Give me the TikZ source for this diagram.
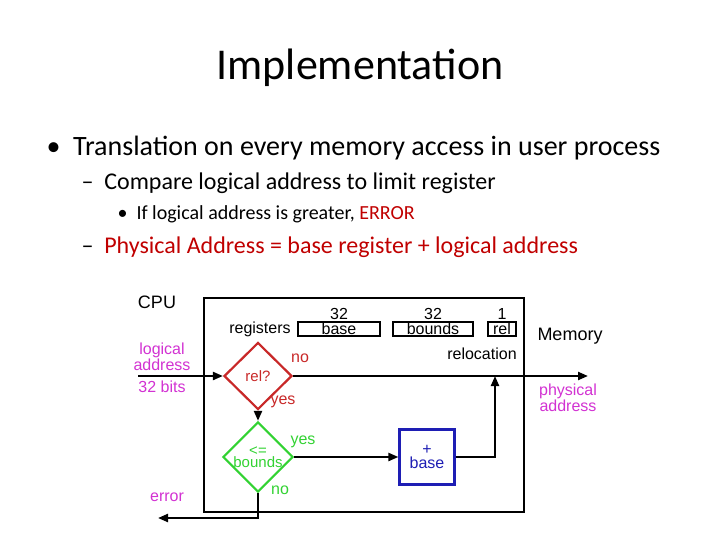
\documentclass[tikz,border=0pt]{standalone}
\usepackage{fontspec}
\setmainfont{Carlito}
\newfontfamily\diag{Liberation Sans}
\usetikzlibrary{shapes.geometric,arrows.meta,positioning}
\definecolor{mag}{RGB}{210,50,210}
\definecolor{dred}{RGB}{200,40,40}
\definecolor{lgreen}{RGB}{50,210,50}
\definecolor{dblue}{RGB}{30,30,180}
\definecolor{slred}{RGB}{192,0,0}

\begin{document}
\begin{tikzpicture}[x=1pt, y=-1pt,
    dtext/.style={font=\diag\fontsize{16}{14}\selectfont, align=center, inner sep=0pt},
    reg/.style={draw, line width=2.2pt, minimum height=14pt, inner sep=0pt, font=\diag\fontsize{16}{14}\selectfont},
    test/.style={draw, diamond, line width=2.2pt, minimum width=68pt, minimum height=67pt, inner sep=0pt, font=\diag\fontsize{15}{12}\selectfont, align=center},
    arrow/.style={-{Triangle[length=10pt,width=8pt]}, line width=2.2pt}
]
    \useasboundingbox (0,0) rectangle (720,540);
    % slide text
    \node[font=\fontsize{44}{44}\selectfont] (title) at (360,68) {Implementation};
    \node[anchor=west, font=\fontsize{28}{28}\selectfont] (b1) at (43,148) {\textbullet\ \ Translation on every memory access in user process};
    \node[anchor=west, font=\fontsize{24}{24}\selectfont] (b2) at (78,183) {--\ \ Compare logical address to limit register};
    \node[anchor=west, font=\fontsize{20}{20}\selectfont] (b3) at (114,214) {\textbullet\ \ If logical address is greater, \textcolor{slred}{ERROR}};
    \node[anchor=west, font=\fontsize{24}{24}\selectfont, text=slred] (b4) at (78,247) {\textcolor{black}{--}\ \ Physical Address = base register + logical address};

    % diagram
    \draw[line width=2.2pt] (204,298) rectangle (524,512);
    \node[dtext, font=\diag\fontsize{18}{18}\selectfont] (cpu) at (157,302) {CPU};
    \node[dtext, font=\diag\fontsize{18}{18}\selectfont] (mem) at (570,336) {Memory};
    \node[dtext] (regs) at (260,329) {registers};
    \node[reg, minimum width=82pt] (base) at (339,329) {base};
    \node[reg, minimum width=80pt] (bounds) at (433,329) {bounds};
    \node[reg, minimum width=28pt] (rel) at (502,329) {rel};
    \node[dtext, above=1pt of base] {32};
    \node[dtext, above=1pt of bounds] {32};
    \node[dtext, above=1pt of rel] {1};
    \node[dtext] (reloc) at (482,354) {relocation};

    \node[test, dred] (relq) at (258,376) {rel?};
    \node[test, lgreen] (bnd) at (258,457) {<=\\bounds};
    \node[draw, dblue, line width=2.2pt, minimum size=55pt, inner sep=0pt, dtext, text=dblue] (add) at (427,457) {+\\base};

    \coordinate (in) at (138,376);
    \coordinate (out) at (588,376);
    \coordinate (join) at (495,376);
    \coordinate (err) at (158,518);
    \draw[arrow] (in) -- (relq.west);
    \draw[arrow] (relq.east) -- (out);
    \draw[arrow] (relq.south) -- (bnd.north);
    \draw[arrow] (bnd.east) -- (add.west);
    \draw[arrow] (add.east) -| (join);
    \draw[arrow] (bnd.south) |- (err);

    \node[dtext, text=mag] at (162,357) {logical\\address};
    \node[dtext, text=mag] at (162,387) {32 bits};
    \node[dtext, text=mag] at (568,398) {physical\\address};
    \node[dtext, text=mag] at (167,497) {error};
    \node[dtext, text=dred] at (300,358) {no};
    \node[dtext, text=dred] at (283,402) {yes};
    \node[dtext, text=lgreen] at (303,442) {yes};
    \node[dtext, text=lgreen] at (280,490) {no};
\end{tikzpicture}
\end{document}
